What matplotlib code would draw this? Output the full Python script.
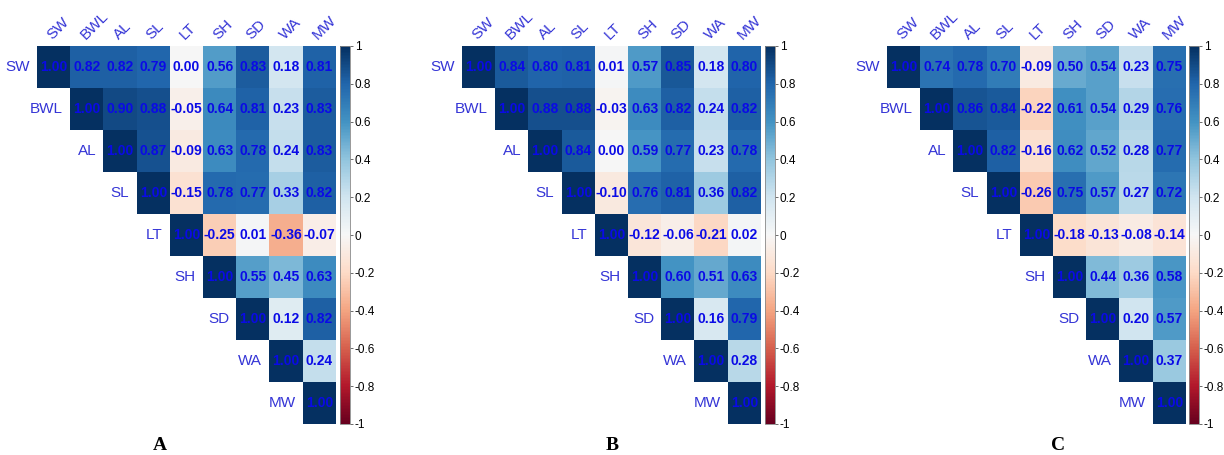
import numpy as np
import matplotlib
matplotlib.use("Agg")
import matplotlib.pyplot as plt

# variable names
traits = ["SW", "BWL", "AL", "SL", "LT", "SH", "SD", "WA", "MW"]

# upper-triangle rows (diagonal first) for each panel
corr_a = [
    [1.00, 0.82, 0.82, 0.79, 0.00, 0.56, 0.83, 0.18, 0.81],
    [1.00, 0.90, 0.88, -0.05, 0.64, 0.81, 0.23, 0.83],
    [1.00, 0.87, -0.09, 0.63, 0.78, 0.24, 0.83],
    [1.00, -0.15, 0.78, 0.77, 0.33, 0.82],
    [1.00, -0.25, 0.01, -0.36, -0.07],
    [1.00, 0.55, 0.45, 0.63],
    [1.00, 0.12, 0.82],
    [1.00, 0.24],
    [1.00],
]
corr_b = [
    [1.00, 0.84, 0.80, 0.81, 0.01, 0.57, 0.85, 0.18, 0.80],
    [1.00, 0.88, 0.88, -0.03, 0.63, 0.82, 0.24, 0.82],
    [1.00, 0.84, 0.00, 0.59, 0.77, 0.23, 0.78],
    [1.00, -0.10, 0.76, 0.81, 0.36, 0.82],
    [1.00, -0.12, -0.06, -0.21, 0.02],
    [1.00, 0.60, 0.51, 0.63],
    [1.00, 0.16, 0.79],
    [1.00, 0.28],
    [1.00],
]
corr_c = [
    [1.00, 0.74, 0.78, 0.70, -0.09, 0.50, 0.54, 0.23, 0.75],
    [1.00, 0.86, 0.84, -0.22, 0.61, 0.54, 0.29, 0.76],
    [1.00, 0.82, -0.16, 0.62, 0.52, 0.28, 0.77],
    [1.00, -0.26, 0.75, 0.57, 0.27, 0.72],
    [1.00, -0.18, -0.13, -0.08, -0.14],
    [1.00, 0.44, 0.36, 0.58],
    [1.00, 0.20, 0.57],
    [1.00, 0.37],
    [1.00],
]
panel_letters = ["A", "B", "C"]

sans = ["Liberation Sans", "DejaVu Sans"]
lab_color = "#3535d6"

W, H = 1224, 455
fig = plt.figure(figsize=(W / 100, H / 100), dpi=100)

lefts = [37, 462, 887]
cb_lefts = [340, 765, 1189]
top, bottom = 46, 424
letter_x = [160, 612, 1058]

n = len(traits)
for k, rows in enumerate([corr_a, corr_b, corr_c]):
    mat = np.full((n, n), np.nan)
    for i, r in enumerate(rows):
        mat[i, i:] = r
    m = np.ma.masked_invalid(mat)

    ax = fig.add_axes([lefts[k] / W, (H - bottom) / H, 299 / W, (bottom - top) / H])
    im = ax.imshow(m, cmap="RdBu", vmin=-1, vmax=1, aspect="auto",
                   interpolation="nearest")
    ax.set_xlim(-0.5, n - 0.5)
    ax.set_ylim(n - 0.5, -0.5)
    ax.axis("off")

    for i in range(n):
        for j in range(i, n):
            ax.text(j, i, f"{mat[i, j]:.2f}", ha="center", va="center",
                    color="#0a0ae6", fontsize=10, fontweight="bold", family=sans)
        # row label, left of the diagonal cell
        ax.text(i - 0.72, i, traits[i], ha="right", va="center",
                color=lab_color, fontsize=11, family=sans)
        # column label, rotated above the top row
        ax.text(i + 0.02, -0.6, traits[i], ha="left", va="bottom",
                rotation=45, rotation_mode="anchor",
                color=lab_color, fontsize=11, family=sans)

    cax = fig.add_axes([cb_lefts[k] / W, (H - bottom) / H, 10 / W, (bottom - top) / H])
    cb = fig.colorbar(im, cax=cax)
    ticks = np.round(np.arange(-1, 1.01, 0.2), 1)
    cb.set_ticks(ticks)
    cb.set_ticklabels([f"{t:g}" if t != 0 else "0" for t in ticks])
    cb.ax.tick_params(labelsize=8.5, length=2, width=0.6, color="#555555", pad=1.5)
    for lab in cb.ax.get_yticklabels():
        lab.set_family(sans)
    cb.outline.set_edgecolor("#888888")
    cb.outline.set_linewidth(0.6)

    fig.text(letter_x[k] / W, 1 - 445 / H, panel_letters[k], ha="center",
             va="center", fontsize=14, fontweight="bold",
             family=["Liberation Serif", "DejaVu Serif"])

fig.savefig("out.png", dpi=100, facecolor="white")
